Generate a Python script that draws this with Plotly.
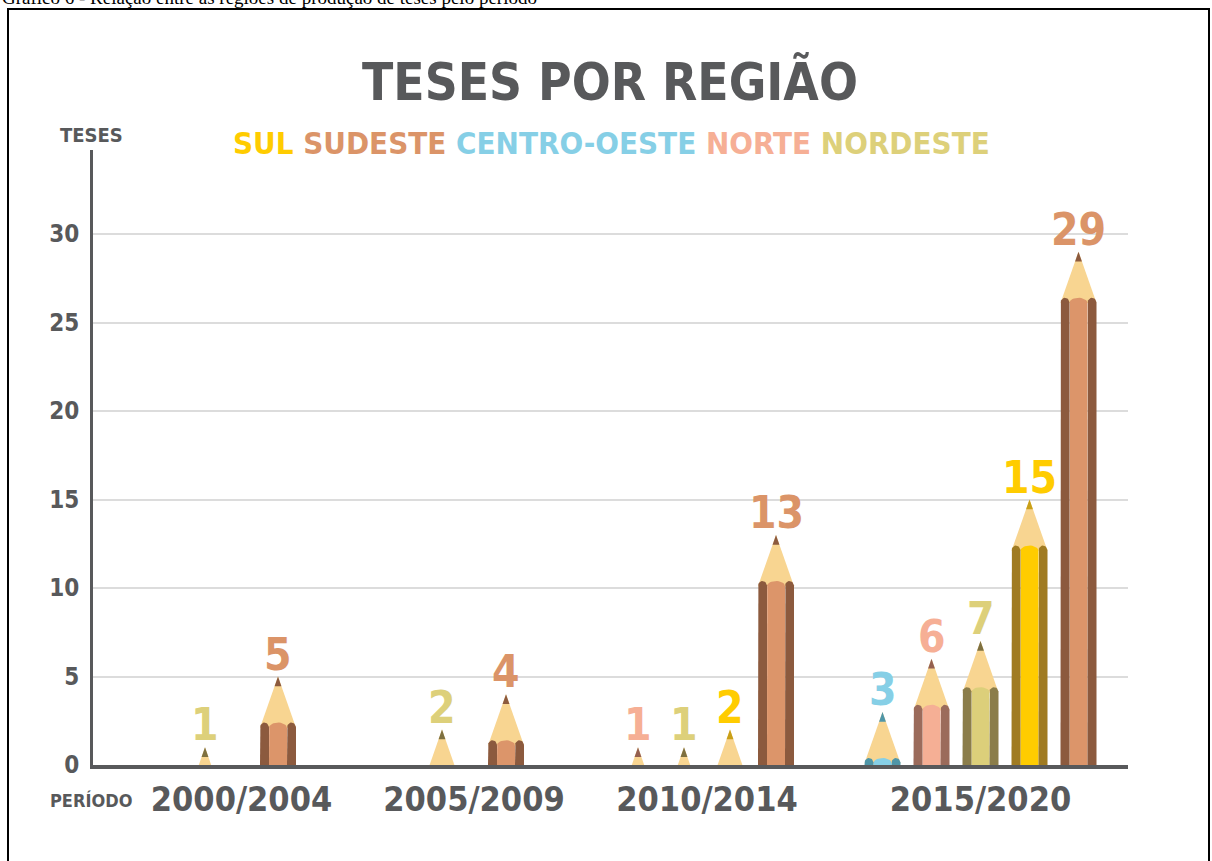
import numpy as np
import plotly.graph_objects as go

# data
periods = ["2000/2004", "2005/2009", "2010/2014", "2015/2020"]
regions = ["CENTRO-OESTE", "NORTE", "NORDESTE", "SUL", "SUDESTE"]
sul = [0, 0, 2, 15]
sudeste = [5, 4, 13, 29]
centro_oeste = [0, 0, 0, 3]
norte = [0, 0, 1, 6]
nordeste = [1, 2, 1, 7]
y_ticks = [0, 5, 10, 15, 20, 25, 30]
legend_order = ["SUL", "SUDESTE", "CENTRO-OESTE", "NORTE", "NORDESTE"]

series = {"CENTRO-OESTE": centro_oeste, "NORTE": norte, "NORDESTE": nordeste,
          "SUL": sul, "SUDESTE": sudeste}

# colours
label_color = {"SUL": "#FFCC00", "SUDESTE": "#DB9468", "CENTRO-OESTE": "#86CFE6",
               "NORTE": "#F6AF95", "NORDESTE": "#DDD07A"}
mid_color = {"SUL": "#FFCC00", "SUDESTE": "#DC956A", "CENTRO-OESTE": "#86CFE6",
             "NORTE": "#F5AF95", "NORDESTE": "#DCCF7A"}
dark_color = {"SUL": "#A07B22", "SUDESTE": "#8C5A3E", "CENTRO-OESTE": "#4F96A8",
              "NORTE": "#9B6B5B", "NORDESTE": "#8B7D4A"}
lead_color = {"SUL": "#C9A018", "SUDESTE": "#8C5A3E", "CENTRO-OESTE": "#4F96A8",
              "NORTE": "#946050", "NORDESTE": "#7E7040"}
WOOD = "#F8D591"
GREY = "#58595B"
FONT = "DejaVu Sans Condensed, Arial Narrow, sans-serif"

# geometry (pixels of the 1212x861 page)
W, H = 1212, 861
L, R, TOP, BOT = 93, 1128, 150, 765
PX_PER_UNIT = 17.7
y_max = (BOT - TOP) / PX_PER_UNIT
group_center = [148.5, 381, 614, 887.5]
group_gap = [73, 64, 46, 49]
BODY_W = 36
CONE_H = 2.9
LEAD_H = 0.55


def px(x):
    return (x - L) / (R - L)


def py(y):
    return (BOT - y) / (BOT - TOP)


def poly(xs, ys, color):
    return go.Scatter(x=xs, y=ys, fill="toself", fillcolor=color, mode="lines",
                      line=dict(width=0), hoverinfo="skip", showlegend=False)


def stripe(x0, x1, top, ry, color):
    t = np.linspace(np.pi, 0, 16)
    cx, rx = (x0 + x1) / 2, (x1 - x0) / 2
    xs = [x0] + list(cx + rx * np.cos(t)) + [x1, x1]
    ys = [0] + list(top + ry * np.sin(t)) + [top, 0]
    return poly(xs, ys, color)


fig = go.Figure()
annotations = []

for g, period in enumerate(periods):
    items = [(series[r][g], k, r) for k, r in enumerate(regions) if series[r][g] > 0]
    items.sort()
    n = len(items)
    for i, (v, _, reg) in enumerate(items):
        cx = group_center[g] + (i - (n - 1) / 2) * group_gap[g]
        tip = v
        base = max(tip - CONE_H, 0)
        half = BODY_W / 2 * (tip - base) / CONE_H
        # wood cone
        fig.add_trace(poly([cx - half, cx, cx + half, cx - half],
                           [base, tip, base, base], WOOD))
        # lead
        lh = min(LEAD_H, tip)
        lw = BODY_W / 2 * lh / CONE_H
        fig.add_trace(poly([cx - lw, cx, cx + lw, cx - lw],
                           [tip - lh, tip, tip - lh, tip - lh], lead_color[reg]))
        # body stripes
        if tip > CONE_H:
            b = tip - CONE_H
            fig.add_trace(stripe(cx - 9, cx + 9, b, 0.3, mid_color[reg]))
            fig.add_trace(stripe(cx - 18, cx - 9, b, 0.3, dark_color[reg]))
            fig.add_trace(stripe(cx + 9, cx + 18, b, 0.3, dark_color[reg]))
        annotations.append(dict(x=cx, y=tip, xref="x", yref="y", text=str(v),
                                showarrow=False, yanchor="bottom", yshift=-5,
                                font=dict(family=FONT, size=44, color=label_color[reg],
                                          weight="bold")))

legend_text = " ".join('<span style="color:%s">%s</span>' % (label_color[r], r)
                       for r in legend_order)


def note(x, y, text, size, color=GREY, family=FONT, weight="bold", xanchor="center"):
    return dict(x=px(x), y=py(y), xref="paper", yref="paper", text=text,
                showarrow=False, xanchor=xanchor, yanchor="middle",
                font=dict(family=family, size=size, color=color, weight=weight))


annotations += [
    note(610, 82, "TESES POR REGIÃO", 51),
    note(611, 143, legend_text, 31),
    note(91, 135, "TESES", 20),
    note(91, 800, "PERÍODO", 18),
    note(0, -3, "Gráfico 6 - Relação entre as regiões de produção de teses pelo período",
         19, color="#000000", family="Liberation Serif, Times New Roman, serif",
         weight="normal", xanchor="left"),
]

fig.update_layout(
    width=W, height=H,
    margin=dict(l=L, r=W - R, t=TOP, b=H - BOT),
    paper_bgcolor="white", plot_bgcolor="white",
    annotations=annotations,
    shapes=[dict(type="rect", xref="paper", yref="paper",
                 x0=px(8), x1=px(1209), y0=py(880), y1=py(9),
                 line=dict(color="black", width=2), layer="above")],
    xaxis=dict(range=[0, R - L], tickvals=group_center, ticktext=periods,
               showgrid=False, zeroline=False, ticks="", showline=True,
               linecolor=GREY, linewidth=4, ticklabelstandoff=1,
               tickfont=dict(family=FONT, size=34, color=GREY, weight="bold")),
    yaxis=dict(range=[0, y_max], tickvals=y_ticks, showgrid=True,
               gridcolor="#DCDCDC", gridwidth=2, zeroline=False, ticks="",
               showline=True, linecolor=GREY, linewidth=3, ticklabelstandoff=6,
               tickfont=dict(family=FONT, size=24, color=GREY, weight="bold")),
)

fig.write_html("out.html", config={"displayModeBar": False},
               post_script="document.body.style.margin='0';")
